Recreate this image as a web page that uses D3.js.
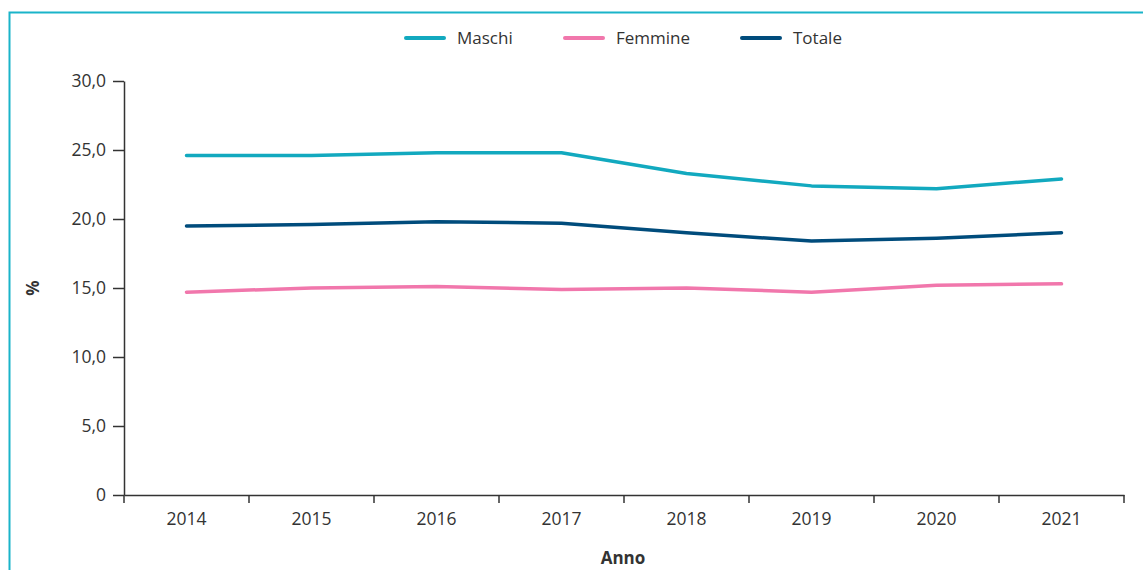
<!DOCTYPE html>
<html>
<head>
<meta charset="utf-8">
<script src="https://cdn.jsdelivr.net/npm/d3@7"></script>
<style>
  body { margin: 0; background: #fff; }
  svg text { font-family: "Open Sans", "Noto Sans", sans-serif; fill: #333; }
</style>
</head>
<body>
<div id="chart"></div>
<script>
// data
const years = ["2014", "2015", "2016", "2017", "2018", "2019", "2020", "2021"];
const maschi = [24.6, 24.6, 24.8, 24.8, 23.3, 22.4, 22.2, 22.9];
const femmine = [14.7, 15.0, 15.1, 14.9, 15.0, 14.7, 15.2, 15.3];
const totale = [19.5, 19.6, 19.8, 19.7, 19.0, 18.4, 18.6, 19.0];
const yTicks = [0, 5, 10, 15, 20, 25, 30];

const series = [
  { name: "Maschi", values: maschi, color: "#12a9bf" },
  { name: "Femmine", values: femmine, color: "#f177ac" },
  { name: "Totale", values: totale, color: "#004c7c" }
];

// dimensions
const W = 1143, H = 570;
const margin = { top: 81, right: 19, bottom: 75, left: 124 };
const width = W - margin.left - margin.right;
const height = H - margin.top - margin.bottom;

const svg = d3.select("#chart")
  .append("svg")
  .attr("width", W)
  .attr("height", H);

// frame
svg.append("path")
  .attr("d", `M9.5,${H} V12.5 H${W}`)
  .attr("fill", "none")
  .attr("stroke", "#1ab4c9")
  .attr("stroke-width", 2);

const g = svg.append("g")
  .attr("transform", `translate(${margin.left}, ${margin.top})`);

// scales
const xScale = d3.scaleBand()
  .domain(years)
  .range([0, width]);

const yScale = d3.scaleLinear()
  .domain([0, 30])
  .range([height, 0]);

// axes
const fmt = d => d === 0 ? "0" : d3.format(".1f")(d).replace(".", ",");

const yAxis = g.append("g")
  .call(d3.axisLeft(yScale).tickValues(yTicks).tickFormat(fmt).tickSize(11).tickSizeOuter(0).tickPadding(7));
yAxis.select(".domain").attr("stroke", "#333").attr("stroke-width", 1.5);
yAxis.selectAll(".tick line").attr("stroke", "#333").attr("stroke-width", 1.5);
yAxis.selectAll("text").attr("font-size", "17.5px").attr("fill", "#333");

const xAxisG = g.append("g")
  .attr("transform", `translate(0, ${height})`)
  .call(d3.axisBottom(xScale).tickSize(0).tickSizeOuter(0).tickPadding(18));
xAxisG.select(".domain").attr("stroke", "#333").attr("stroke-width", 1.5);
xAxisG.selectAll("text").attr("font-size", "17.5px").attr("fill", "#333");

// boundary ticks between bands
const edges = years.map(y => xScale(y)).concat([width]);
xAxisG.selectAll(".edge")
  .data(edges)
  .enter().append("line")
  .attr("x1", d => d)
  .attr("x2", d => d)
  .attr("y1", 0)
  .attr("y2", 8)
  .attr("stroke", "#333")
  .attr("stroke-width", 1.5);

// lines
const lineGen = d3.line()
  .x((d, i) => xScale(years[i]) + xScale.bandwidth() / 2)
  .y(d => yScale(d));

for (const s of series) {
  g.append("path")
    .datum(s.values)
    .attr("d", lineGen)
    .attr("fill", "none")
    .attr("stroke", s.color)
    .attr("stroke-width", 3.5)
    .attr("stroke-linecap", "round")
    .attr("stroke-linejoin", "round");
}

// axis titles
svg.append("text")
  .attr("transform", `translate(39, ${margin.top + yScale(15)}) rotate(-90)`)
  .attr("text-anchor", "middle")
  .attr("font-size", "17px")
  .attr("font-weight", "bold")
  .text("%");

svg.append("text")
  .attr("x", 623)
  .attr("y", 564)
  .attr("text-anchor", "middle")
  .attr("font-size", "17px")
  .attr("font-weight", "bold")
  .text("Anno");

// legend
const legendX = [406, 565, 742];
const legend = svg.selectAll(".legend")
  .data(series)
  .enter().append("g")
  .attr("class", "legend")
  .attr("transform", (d, i) => `translate(${legendX[i]}, 38)`);

legend.append("line")
  .attr("x1", 0)
  .attr("x2", 38)
  .attr("stroke", d => d.color)
  .attr("stroke-width", 4)
  .attr("stroke-linecap", "round");

legend.append("text")
  .attr("x", 51)
  .attr("dy", "0.35em")
  .attr("font-size", "17px")
  .text(d => d.name);
</script>
</body>
</html>
